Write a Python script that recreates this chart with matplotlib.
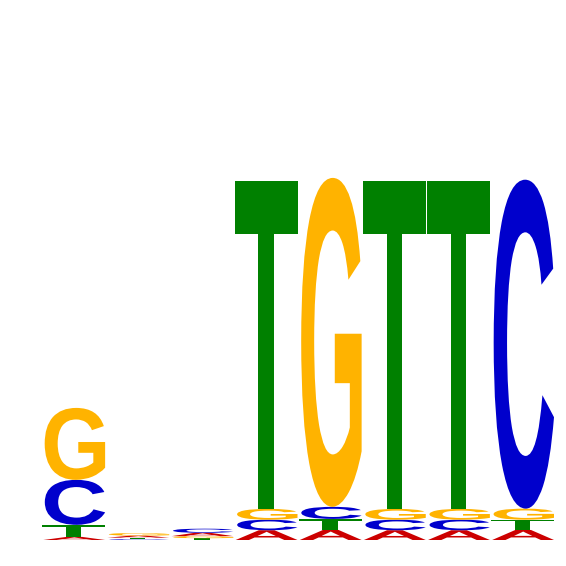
import matplotlib
matplotlib.use("Agg")
import matplotlib.pyplot as plt
from matplotlib.textpath import TextPath
from matplotlib.font_manager import FontProperties
from matplotlib.patches import PathPatch
from matplotlib.transforms import Affine2D

# Information content (bits) per letter at each position
positions = [1, 2, 3, 4, 5, 6, 7, 8]
letters = ["A", "C", "G", "T"]
height_A = [0.012, 0.008, 0.013, 0.038, 0.039, 0.038, 0.038, 0.039]
height_C = [0.175, 0.003, 0.016, 0.041, 0.047, 0.041, 0.041, 1.280]
height_G = [0.280, 0.010, 0.008, 0.042, 1.280, 0.042, 0.042, 0.043]
height_T = [0.047, 0.006, 0.007, 1.274, 0.043, 1.274, 1.274, 0.040]

colors = {"A": "#CC0000", "C": "#0000CC", "G": "#FFB300", "T": "#008000"}

fp = FontProperties(family="Liberation Sans", weight="bold")

fig = plt.figure(figsize=(5.66, 5.66), dpi=100)
ax = fig.add_axes([41 / 566, 26 / 566, 513 / 566, 514 / 566])
ax.set_xlim(0.5, 8.5)
ax.set_ylim(0, 2)
ax.axis("off")

heights = {"A": height_A, "C": height_C, "G": height_G, "T": height_T}


def draw_letter(ax, letter, x, bottom, h, color):
    tp = TextPath((0, 0), letter, size=1, prop=fp)
    verts = tp.vertices
    xmin, ymin = verts.min(axis=0)
    xmax, ymax = verts.max(axis=0)
    t = (Affine2D()
         .translate(-xmin, -ymin)
         .scale(1.0 / (xmax - xmin), h / (ymax - ymin))
         .translate(x - 0.5, bottom))
    path = t.transform_path(tp)
    ax.add_patch(PathPatch(path, facecolor=color, edgecolor="none", lw=0))


for i, pos in enumerate(positions):
    stack = sorted(letters, key=lambda L: heights[L][i])
    bottom = 0.0
    for L in stack:
        h = heights[L][i]
        if h > 0:
            draw_letter(ax, L, pos, bottom, h, colors[L])
        bottom += h

fig.savefig("out.png", dpi=100, facecolor="white")
